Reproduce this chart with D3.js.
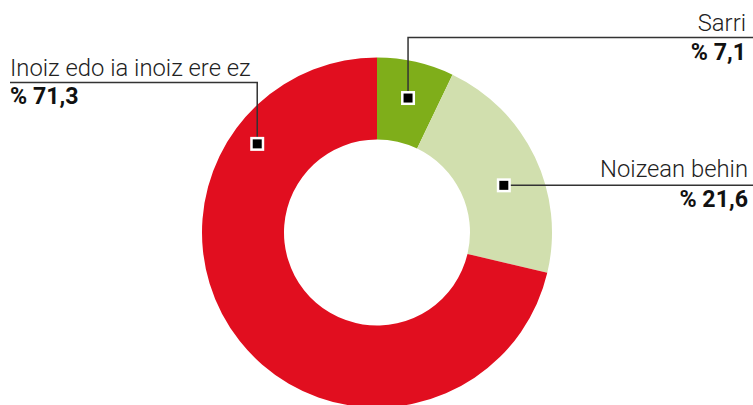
<!DOCTYPE html>
<html>
<head>
<meta charset="utf-8">
<script src="https://cdn.jsdelivr.net/npm/d3@7"></script>
<style>
html,body{margin:0;padding:0;background:#fff;}
svg{display:block;}
.lbl{font-family:Roboto,"Noto Sans",sans-serif;font-weight:300;font-size:23.8px;fill:#222;}
.val{font-family:Roboto,"Noto Sans",sans-serif;font-weight:700;font-size:23.2px;fill:#111;}
</style>
</head>
<body>
<svg id="chart" width="753" height="405"></svg>
<script>
// Data
const categories = ["Sarri", "Noizean behin", "Inoiz edo ia inoiz ere ez"];
const values = [7.1, 21.6, 71.3];
const valueLabels = ["% 7,1", "% 21,6", "% 71,3"];

// Styles / layout
const colors = ["#7fae1a", "#d1dfae", "#e10e1f"];
const W = 753, H = 405;
const cx = 377, cy = 232.5, outerR = 175, innerR = 93;
// marker placement (angle in degrees clockwise from top, radius)
const markerAngle = [13, 69.6, 306.5];
const markerRadius = [138, 135.3, 149];

const svg = d3.select("#chart");
const g = svg.append("g").attr("transform", `translate(${cx},${cy})`);

const pie = d3.pie().sort(null).value(d => d);
const arc = d3.arc().innerRadius(innerR).outerRadius(outerR);
const arcs = pie(values);

g.selectAll("path.slice").data(arcs).join("path")
  .attr("class", "slice")
  .attr("d", arc)
  .attr("fill", (d, i) => colors[i]);

// marker positions
const mpos = markerAngle.map((a, i) => {
  const r = a * Math.PI / 180;
  return [cx + markerRadius[i] * Math.sin(r), cy - markerRadius[i] * Math.cos(r)];
});

const lineColor = "#333";
const lines = [
  [[W, 37.5], [mpos[0][0], 37.5], [mpos[0][0], mpos[0][1]]],
  [[W, mpos[1][1]], [mpos[1][0], mpos[1][1]]],
  [[10, 82.5], [mpos[2][0], 82.5], [mpos[2][0], mpos[2][1]]]
];
svg.selectAll("path.leader").data(lines).join("path")
  .attr("class", "leader")
  .attr("d", d => d3.line()(d))
  .attr("fill", "none")
  .attr("stroke", lineColor)
  .attr("stroke-width", 1.5);

// markers
svg.selectAll("rect.mk-o").data(mpos).join("rect")
  .attr("class", "mk-o")
  .attr("x", d => d[0] - 7).attr("y", d => d[1] - 7)
  .attr("width", 14).attr("height", 14)
  .attr("fill", "#fff");
svg.selectAll("rect.mk-i").data(mpos).join("rect")
  .attr("class", "mk-i")
  .attr("x", d => d[0] - 4.5).attr("y", d => d[1] - 4.5)
  .attr("width", 9).attr("height", 9)
  .attr("fill", "#000");

// labels
const labelPos = [
  {x: 746, y1: 30.5, y2: 60, anchor: "end"},
  {x: 748, y1: 176.5, y2: 206.5, anchor: "end"},
  {x: 10, y1: 75.5, y2: 104, anchor: "start"}
];
categories.forEach((c, i) => {
  const p = labelPos[i];
  svg.append("text").attr("class", "lbl")
    .attr("x", p.x).attr("y", p.y1).attr("text-anchor", p.anchor).text(c);
  svg.append("text").attr("class", "val")
    .attr("x", p.x).attr("y", p.y2).attr("text-anchor", p.anchor).text(valueLabels[i]);
});
</script>
</body>
</html>
